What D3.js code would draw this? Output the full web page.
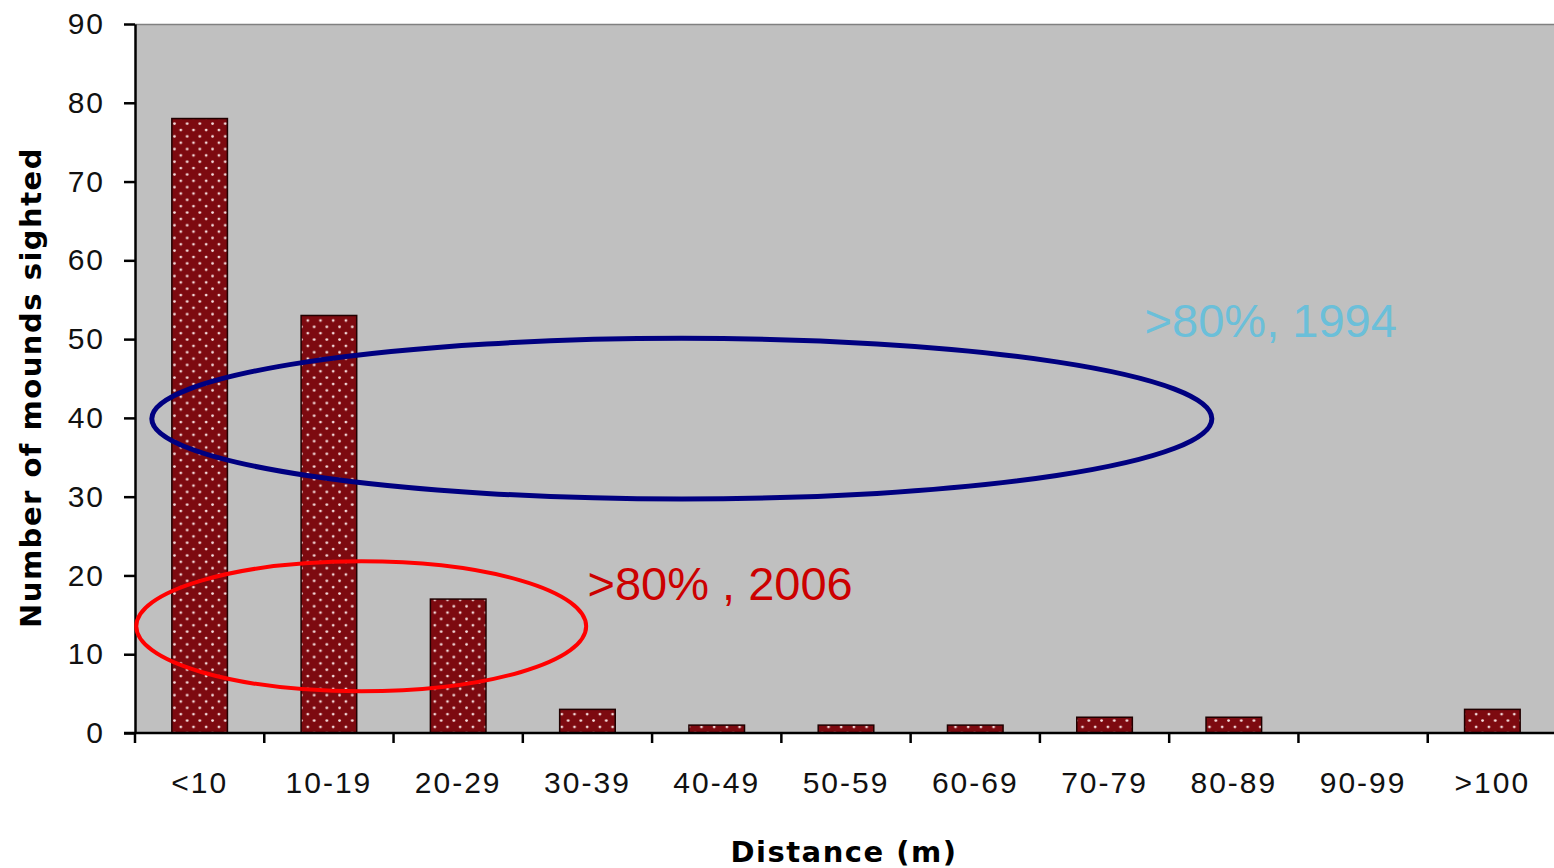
<!DOCTYPE html>
<html><head><meta charset="utf-8">
<script src="https://cdn.jsdelivr.net/npm/d3@7"></script>
<style>html,body{margin:0;padding:0;background:#fff;overflow:hidden}</style>
</head><body>
<svg id="chart" width="1554" height="868"></svg>
<script>
const categories = ["<10","10-19","20-29","30-39","40-49","50-59","60-69","70-79","80-89","90-99",">100"];
const values = [78, 53, 17, 3, 1, 1, 1, 2, 2, 0, 3];
const yTicks = [0,10,20,30,40,50,60,70,80,90];
const yTitle = "Number of mounds sighted";
const xTitle = "Distance (m)";
// annotations in data units (x: category index position, y: value)
const ellipses = [
  {x0:0.13, x1:8.33, y0:29.7, y1:50.1, color:"#000080", width:5},
  {x0:0.01, x1:3.49, y0:5.3, y1:21.8, color:"#ff0000", width:4}
];
const notes = [
  {text:">80%, 1994", x:7.81, y:50.3, color:"#6bbfd9"},
  {text:">80% , 2006", x:3.5, y:16.9, color:"#cc0000"}
];

const svg = d3.select("#chart");
const m = {left:135, top:24, right:1557, bottom:733};
const x = d3.scaleBand().domain(categories).range([m.left, m.right]).paddingInner(0.57).paddingOuter(0.285);
const xi = d3.scaleLinear().domain([0, categories.length]).range([m.left, m.right]);
const y = d3.scaleLinear().domain([0, 90]).range([m.bottom, m.top]);

const defs = svg.append("defs");
const pat = defs.append("pattern").attr("id","dots").attr("patternUnits","userSpaceOnUse")
  .attr("width",12.7).attr("height",12.7);
pat.append("rect").attr("width",12.7).attr("height",12.7).attr("fill","#7d0a10");
pat.append("circle").attr("cx",3).attr("cy",3).attr("r",1.4).attr("fill","#f4dcdc");
pat.append("circle").attr("cx",9.35).attr("cy",9.35).attr("r",1.4).attr("fill","#f4dcdc");

// plot background
svg.append("rect").attr("x",m.left).attr("y",m.top).attr("width",1554-m.left).attr("height",m.bottom-m.top)
  .attr("fill","#c0c0c0");
svg.append("line").attr("x1",m.left).attr("x2",1554).attr("y1",m.top+0.5).attr("y2",m.top+0.5)
  .attr("stroke","#808080").attr("stroke-width",1.5);

// bars
svg.append("g").selectAll("rect").data(values).join("rect")
  .attr("x",(d,i)=>x(categories[i]))
  .attr("width",x.bandwidth())
  .attr("y",d=>y(d))
  .attr("height",d=>y(0)-y(d))
  .attr("fill","url(#dots)")
  .attr("stroke",d=>d>0?"#200000":"none").attr("stroke-width",1.5);

const tickFont = "Liberation Sans, Arial, sans-serif";
// y axis
const yAxis = svg.append("g").attr("transform",`translate(${m.left},0)`)
  .call(d3.axisLeft(y).tickValues(yTicks).tickSize(11).tickPadding(19).tickSizeOuter(0));
yAxis.select(".domain").attr("stroke","#000").attr("stroke-width",2.5);
yAxis.selectAll(".tick line").attr("stroke","#000").attr("stroke-width",2.5);
yAxis.selectAll("text").attr("font-family",tickFont).attr("font-size",30)
  .attr("letter-spacing",2).attr("fill","#111");

// x axis
const xAxis = svg.append("g").attr("transform",`translate(0,${m.bottom})`)
  .call(d3.axisBottom(x).tickSize(0).tickPadding(39).tickSizeOuter(0));
xAxis.select(".domain").remove();
svg.append("line").attr("x1",m.left-11).attr("x2",1554).attr("y1",m.bottom).attr("y2",m.bottom)
  .attr("stroke","#000").attr("stroke-width",2.5);
svg.append("g").selectAll("line").data(d3.range(categories.length)).join("line")
  .attr("x1",i=>xi(i)).attr("x2",i=>xi(i)).attr("y1",m.bottom).attr("y2",m.bottom+10)
  .attr("stroke","#000").attr("stroke-width",2.5);
xAxis.selectAll("text").attr("font-family",tickFont).attr("font-size",30)
  .attr("letter-spacing",2).attr("fill","#111");

// titles
svg.append("text").attr("transform",`translate(41,${(160+615)/2}) rotate(-90)`)
  .attr("text-anchor","middle").attr("font-family","DejaVu Sans, sans-serif").attr("font-weight","bold")
  .attr("font-size",29).attr("letter-spacing",1.5).attr("fill","#000").text(yTitle);
svg.append("text").attr("x",844).attr("y",862).attr("text-anchor","middle")
  .attr("font-family","DejaVu Sans, sans-serif").attr("font-weight","bold")
  .attr("font-size",29).attr("letter-spacing",1.5).attr("fill","#000").text(xTitle);

// annotations
svg.append("g").selectAll("ellipse").data(ellipses).join("ellipse")
  .attr("cx",d=>(xi(d.x0)+xi(d.x1))/2).attr("cy",d=>(y(d.y0)+y(d.y1))/2)
  .attr("rx",d=>(xi(d.x1)-xi(d.x0))/2).attr("ry",d=>(y(d.y0)-y(d.y1))/2)
  .attr("fill","none").attr("stroke",d=>d.color).attr("stroke-width",d=>d.width);
svg.append("g").selectAll("text").data(notes).join("text")
  .attr("x",d=>xi(d.x)).attr("y",d=>y(d.y))
  .attr("font-family","Liberation Sans, Arial, sans-serif").attr("font-size",47)
  .attr("fill",d=>d.color).text(d=>d.text);
</script>
</body></html>
